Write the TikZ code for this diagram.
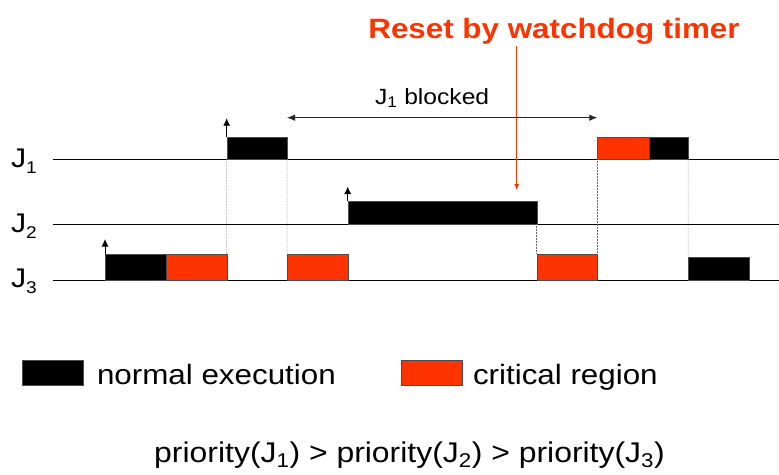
\documentclass[tikz,border=0pt]{standalone}
\usepackage{fontspec}
\setmainfont{Liberation Sans}[FakeStretch=1.12]
\usetikzlibrary{arrows.meta}
\definecolor{critred}{RGB}{255,51,0}

\begin{document}
\begin{tikzpicture}[x=1pt, y=-1pt,
  every node/.style = {inner sep=0pt, outer sep=0pt},
  exec/.style = {draw=black!70, line width=0.4pt, fill=black, anchor=south west},
  crit/.style = {draw=black!70, line width=0.4pt, fill=critred, anchor=south west},
  timeline/.style = {line width=0.9pt, -{Latex[length=7pt,width=6pt]}},
  release/.style = {line width=0.9pt, -{Latex[length=7.5pt,width=7pt]}},
  guide/.style = {densely dotted, black!60, line width=0.5pt},
  jlabel/.style = {font=\fontsize{27}{30}\selectfont, anchor=base west}]
  \useasboundingbox (0,0) rectangle (779,474);

  % time lines
  \coordinate (s1) at (52.7,159);  \coordinate (f1) at (786,159);
  \coordinate (s2) at (52.7,224);  \coordinate (f2) at (786,224);
  \coordinate (s3) at (52.7,280);  \coordinate (f3) at (786,280);
  \draw[timeline] (s1) -- (f1);
  \draw[timeline] (s2) -- (f2);
  \draw[timeline] (s3) -- (f3);
  \node[jlabel] (j1) at (11,167) {J\raisebox{-6pt}{\fontsize{17}{20}\selectfont 1}};
  \node[jlabel] (j2) at (11,232) {J\raisebox{-6pt}{\fontsize{17}{20}\selectfont 2}};
  \node[jlabel] (j3) at (11,287) {J\raisebox{-6pt}{\fontsize{17}{20}\selectfont 3}};

  % J3
  \node[exec, minimum width=61pt, minimum height=26pt] (a3) at (105,280) {};
  \node[crit, minimum width=60.7pt, minimum height=26pt] (b3) at (166,280) {};
  \node[crit, minimum width=60.7pt, minimum height=26pt] (c3) at (287,280) {};
  \node[crit, minimum width=60.6pt, minimum height=26pt] (d3) at (536.7,280) {};
  \node[exec, minimum width=60.7pt, minimum height=23pt] (e3) at (688,280) {};
  % J2
  \node[exec, minimum width=189pt, minimum height=23pt] (a2) at (347.7,224) {};
  % J1
  \node[exec, minimum width=60.3pt, minimum height=22.3pt] (a1) at (226.7,159) {};
  \node[crit, minimum width=52pt, minimum height=22.3pt] (b1) at (597.3,159) {};
  \node[exec, minimum width=38.7pt, minimum height=22.3pt] (c1) at (649.3,159) {};

  % releases
  \draw[release] (a3.north west) -- ++(0,-15);
  \draw[release] (a2.north west) -- ++(0,-14.5);
  \draw[release] (a1.north west) -- ++(0,-18.5);

  % switches
  \draw[guide] (a1.south west) -- (b3.north east);
  \draw[guide] (a1.south east) -- (c3.north west);
  \draw[guide] (a2.south east) -- (d3.north west);
  \draw[guide] (b1.south west) -- (d3.north east);
  \draw[guide] (c1.south east) -- (e3.north west);

  % blocking interval
  \coordinate (bl) at (287,117.7);
  \coordinate (br) at (597.3,117.7);
  \draw[line width=0.9pt, black!85, {Latex[length=8pt,width=6.5pt]}-{Latex[length=8pt,width=6.5pt]}] (bl) -- (br);
  \node[font=\fontsize{22}{26}\selectfont, anchor=base west] (blk) at (375,104) {J\textsubscript{1} blocked};

  % watchdog
  \node[font=\fontsize{28}{32}\selectfont\bfseries, text=critred, anchor=base] (rst) at (554,38.3) {Reset by watchdog timer};
  \coordinate (hit) at (516.7,190);
  \draw[critred, line width=0.8pt, -{Latex[length=6pt,width=5pt]}] (rst.south -| hit) ++(0,1.5) -- (hit);

  % legend
  \node[exec, minimum width=61.6pt, minimum height=25pt] (kn) at (21.7,385) {};
  \node[font=\fontsize{28}{32}\selectfont, anchor=base west] (tn) at (97,384) {normal execution};
  \node[crit, minimum width=61.6pt, minimum height=25pt] (kc) at (400.7,385) {};
  \node[font=\fontsize{28}{32}\selectfont, anchor=base west] (tc) at (473,384) {critical region};

  \node[font=\fontsize{28.5}{32}\selectfont, anchor=base] (prio) at (409.5,462)
    {priority(J\textsubscript{1}) > priority(J\textsubscript{2}) > priority(J\textsubscript{3})};
\end{tikzpicture}
\end{document}
